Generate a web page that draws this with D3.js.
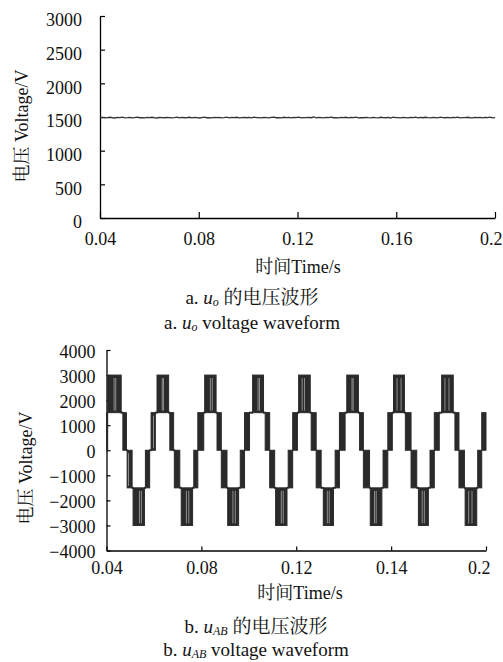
<!DOCTYPE html>
<html><head><meta charset="utf-8">
<script src="https://cdn.jsdelivr.net/npm/d3@7"></script>
<style>
body{margin:0;background:#fff;}
svg{display:block;background:#fff;}
text{font-family:"Liberation Serif","Times New Roman","Noto Serif CJK SC","Noto Sans CJK SC",serif;fill:#111;}
</style></head><body>
<svg id="c" width="503" height="662"></svg>
<script>
// ---------- data: chart a (u_o) ----------
const uoTimeRange = [0.04, 0.2];
const uoValues = [
1490,1494,1487,1492,1496,1489,1485,1493,1491,1497,
1488,1490,1495,1486,1492,1498,1489,1491,1487,1494,
1490,1496,1488,1485,1493,1491,1489,1495,1492,1487,
1490,1497,1486,1493,1489,1491,1496,1488,1494,1490,
1485,1492,1498,1489,1491,1487,1495,1490,1493,1486,
1492,1499,1488,1494,1490,1496,1487,1491,1495,1489,
1493,1486,1497,1490,1492,1488,1495,1491,1487,1494,
1499,1489,1492,1486,1496,1490,1493,1488,1495,1491,
1497,1487,1492,1490,1494,1489,1500,1488,1493,1491,
1486,1495,1490,1497,1489,1492,1488,1494,1491,1496,
1487,1493,1490,1498,1486,1492,1489,1495,1491,1488,
1494,1490,1487,1496,1492,1489,1493,1485,1497,1490,
1491,1488,1495,1492,1486,1494,1490,1499,1487,1493,
1489,1496,1491,1488,1494,1490,1486,1497,1492,1489,
1495,1487,1493,1490,1498,1488,1492,1491,1496,1489,
1487,1494,1490,1493,1486,1495,1491,1497,1488,1492];
const uoXTicks = [0.04, 0.08, 0.12, 0.16, 0.2];
const uoXTickLabels = ["0.04", "0.08", "0.12", "0.16", "0.2"];
const uoYTicks = [0, 500, 1000, 1500, 2000, 2500, 3000];
const uoYDomain = [0, 3000];

// ---------- data: chart b (u_AB) ----------
// [t start (s), t end (s), lower level (V), upper level (V)]; lower<upper = dense PWM band
const uabSegments = [
[0.0400,0.0405,0,1500],[0.0405,0.0462,1500,3000],[0.0462,0.0469,1500,1500],[0.0469,0.0484,0,1500],
[0.0484,0.0487,0,0],[0.0487,0.0508,-1500,0],[0.0508,0.0512,-1500,-1500],[0.0512,0.0560,-3000,-1500],
[0.0560,0.0564,-1500,-1500],[0.0564,0.0582,-1500,0],[0.0582,0.0588,0,0],[0.0588,0.0606,0,1500],
[0.0606,0.0613,1500,1500],
[0.0613,0.0662,1500,3000],[0.0662,0.0667,1500,1500],[0.0667,0.0683,0,1500],[0.0683,0.0686,0,0],
[0.0686,0.0709,-1500,0],[0.0709,0.0715,-1500,-1500],[0.0715,0.0763,-3000,-1500],[0.0763,0.0768,-1500,-1500],
[0.0768,0.0785,-1500,0],[0.0785,0.0810,0,1500],[0.0810,0.0814,1500,1500],
[0.0814,0.0862,1500,3000],[0.0862,0.0866,1500,1500],[0.0866,0.0884,0,1500],[0.0884,0.0908,-1500,0],
[0.0908,0.0911,-1500,-1500],[0.0911,0.0957,-3000,-1500],[0.0957,0.0964,-1500,-1500],[0.0964,0.0982,-1500,0],
[0.0982,0.1003,0,1500],[0.1003,0.1016,1500,1500],
[0.1016,0.1062,1500,3000],[0.1062,0.1069,1500,1500],[0.1069,0.1088,0,1500],[0.1088,0.1109,-1500,0],
[0.1109,0.1113,-1500,-1500],[0.1113,0.1161,-3000,-1500],[0.1161,0.1166,-1500,-1500],[0.1166,0.1185,-1500,0],
[0.1185,0.1205,0,1500],[0.1205,0.1210,1500,1500],
[0.1210,0.1259,1500,3000],[0.1259,0.1263,1500,1500],[0.1263,0.1284,0,1500],[0.1284,0.1305,-1500,0],
[0.1305,0.1314,-1500,-1500],[0.1314,0.1357,-3000,-1500],[0.1357,0.1364,-1500,-1500],[0.1364,0.1382,-1500,0],
[0.1382,0.1406,0,1500],[0.1406,0.1413,1500,1500],
[0.1413,0.1462,1500,3000],[0.1462,0.1467,1500,1500],[0.1467,0.1483,0,1500],[0.1483,0.1509,-1500,0],
[0.1509,0.1512,-1500,-1500],[0.1512,0.1561,-3000,-1500],[0.1561,0.1566,-1500,-1500],[0.1566,0.1586,-1500,0],
[0.1586,0.1605,0,1500],[0.1605,0.1610,1500,1500],
[0.1610,0.1656,1500,3000],[0.1656,0.1660,1500,1500],[0.1660,0.1684,0,1500],[0.1684,0.1708,-1500,0],
[0.1708,0.1715,-1500,-1500],[0.1715,0.1757,-3000,-1500],[0.1757,0.1764,-1500,-1500],[0.1764,0.1782,-1500,0],
[0.1782,0.1803,0,1500],[0.1803,0.1813,1500,1500],
[0.1813,0.1862,1500,3000],[0.1862,0.1869,1500,1500],[0.1869,0.1886,0,1500],[0.1886,0.1909,-1500,0],
[0.1909,0.1912,-1500,-1500],[0.1912,0.1961,-3000,-1500],[0.1961,0.1965,-1500,-1500],[0.1965,0.1982,-1500,0],
[0.1982,0.2000,0,1500]
];
// light gaps visible inside the dense switching bands: [t (s), lower level, upper level]
const uabGaps = [
[0.0432,1500,3000],[0.0439,1500,3000],[0.0493,-1500,0],[0.0539,-3000,-1500],[0.0547,-3000,-1500],
[0.0598,0,1500],[0.0635,1500,3000],[0.0640,1500,3000],[0.0737,-3000,-1500],[0.0747,-3000,-1500],
[0.0838,1500,3000],[0.0846,1500,3000],[0.0933,-3000,-1500],[0.0943,-3000,-1500],
[0.1039,1500,3000],[0.1045,1500,3000],[0.1137,-3000,-1500],[0.1145,-3000,-1500],
[0.1225,1500,3000],[0.1235,1500,3000],[0.1331,-3000,-1500],[0.1339,-3000,-1500],
[0.1435,1500,3000],[0.1440,1500,3000],[0.1530,-3000,-1500],[0.1537,-3000,-1500],
[0.1625,1500,3000],[0.1642,1500,3000],[0.1731,-3000,-1500],[0.1740,-3000,-1500],
[0.1827,1500,3000],[0.1844,1500,3000],[0.1927,-3000,-1500],[0.1941,-3000,-1500]
];
const uabXTicks = [0.04, 0.08, 0.12, 0.16, 0.2];
const uabXTickLabels = ["0.04", "0.08", "0.12", "0.14", "0.2"];
const uabYTicks = [-4000, -3000, -2000, -1000, 0, 1000, 2000, 3000, 4000];
const uabYDomain = [-4000, 4000];

// ---------- text ----------
const yTitle = "电压 Voltage/V";
const xTitle = "时间Time/s";

// ---------- drawing ----------
const svg = d3.select("#c");
const FONT = '"Liberation Serif","Times New Roman","Noto Serif CJK SC","Noto Sans CJK SC",serif';
const ink = "#2a2a2a";

function styleAxis(g, size) {
  g.attr("font-family", FONT).attr("font-size", size);
  g.selectAll("path.domain").attr("stroke", "#000").attr("stroke-width", 1.3);
  g.selectAll(".tick line").attr("stroke", "#000").attr("stroke-width", 1.2);
  g.selectAll(".tick text").attr("fill", "#111");
}

// ===== chart a =====
const xa = d3.scaleLinear().domain(uoTimeRange).range([100, 495]);
const ya = d3.scaleLinear().domain(uoYDomain).range([218, 16]);

const gaY = svg.append("g").attr("transform", `translate(${xa.range()[0]},0)`)
  .call(d3.axisLeft(ya).tickValues(uoYTicks).tickFormat(d3.format("d")).tickSizeInner(-5).tickSizeOuter(0).tickPadding(18));
styleAxis(gaY, 18);
gaY.selectAll(".tick text").attr("dy", "0.55em");

const gaX = svg.append("g").attr("transform", `translate(0,${ya.range()[0]})`)
  .call(d3.axisBottom(xa).tickValues(uoXTicks).tickFormat((d, i) => uoXTickLabels[i]).tickSizeInner(-6).tickSizeOuter(0).tickPadding(14));
styleAxis(gaX, 18);
gaX.selectAll(".tick text").filter((d, i, n) => i === n.length - 1).attr("text-anchor", "end").attr("dx", 7);

const dtA = (uoTimeRange[1] - uoTimeRange[0]) / (uoValues.length - 1);
svg.append("path").datum(uoValues)
  .attr("fill", "none").attr("stroke", "#333").attr("stroke-width", 1.3)
  .attr("d", d3.line().x((d, i) => xa(uoTimeRange[0] + i * dtA)).y(d => ya(d)));

svg.append("text").attr("transform", "translate(28,126) rotate(-90)")
  .attr("text-anchor", "middle").attr("font-size", 18).text(yTitle);
svg.append("text").attr("x", 298).attr("y", 273).attr("text-anchor", "middle").attr("font-size", 18).text(xTitle);

function caption(x, y, prefix, sub, rest) {
  const t = svg.append("text").attr("x", x).attr("y", y).attr("text-anchor", "middle").attr("font-size", 19);
  t.append("tspan").text(prefix + " ");
  t.append("tspan").attr("font-style", "italic").text("u");
  t.append("tspan").attr("font-style", "italic").attr("font-size", 12).attr("dy", 2).text(sub);
  t.append("tspan").attr("dy", -2).text(" " + rest);
}
caption(252, 304, "a.", "o", "的电压波形");
caption(252, 329, "a.", "o", "voltage waveform");

// ===== chart b =====
const xb = d3.scaleLinear().domain([0.04, 0.2]).range([106.5, 486]);
const yb = d3.scaleLinear().domain(uabYDomain).range([550.5, 350]);

const gbY = svg.append("g").attr("transform", `translate(${xb.range()[0]},0)`)
  .call(d3.axisLeft(yb).tickValues(uabYTicks).tickFormat(d3.format("d")).tickSizeInner(-4).tickSizeOuter(0).tickPadding(11));
styleAxis(gbY, 18);
gbY.selectAll(".tick text").attr("dy", "0.4em");

const gbX = svg.append("g").attr("transform", `translate(0,${yb.range()[0]})`)
  .call(d3.axisBottom(xb).tickValues(uabXTicks).tickFormat((d, i) => uabXTickLabels[i]).tickSizeInner(-4).tickSizeOuter(0).tickPadding(11));
styleAxis(gbX, 18);
gbX.selectAll(".tick text").filter((d, i, n) => i === n.length - 1).attr("text-anchor", "end").attr("dx", 4);

const bands = uabSegments.filter(s => s[2] < s[3]);
const flats = uabSegments.filter(s => s[2] === s[3]);
svg.append("g").selectAll("rect").data(bands).join("rect")
  .attr("x", s => xb(s[0])).attr("width", s => Math.max(0.6, xb(s[1]) - xb(s[0])))
  .attr("y", s => yb(s[3])).attr("height", s => yb(s[2]) - yb(s[3]))
  .attr("fill", ink).attr("stroke", ink).attr("stroke-width", 1);
svg.append("g").selectAll("line").data(flats).join("line")
  .attr("x1", s => xb(s[0]) - 0.5).attr("x2", s => xb(s[1]) + 0.5)
  .attr("y1", s => yb(s[2])).attr("y2", s => yb(s[2]))
  .attr("stroke", ink).attr("stroke-width", 2);
svg.append("g").selectAll("line").data(uabGaps).join("line")
  .attr("x1", g => xb(g[0])).attr("x2", g => xb(g[0]))
  .attr("y1", g => yb(g[2]) + 3).attr("y2", g => yb(g[1]) - 2)
  .attr("stroke", "#a8a8a8").attr("stroke-width", 0.8);

svg.append("text").attr("transform", "translate(32,468) rotate(-90)")
  .attr("text-anchor", "middle").attr("font-size", 18).text(yTitle);
svg.append("text").attr("x", 300).attr("y", 599).attr("text-anchor", "middle").attr("font-size", 18).text(xTitle);

caption(256, 633, "b.", "AB", "的电压波形");
caption(256, 656, "b.", "AB", "voltage waveform");
</script>
</body></html>
